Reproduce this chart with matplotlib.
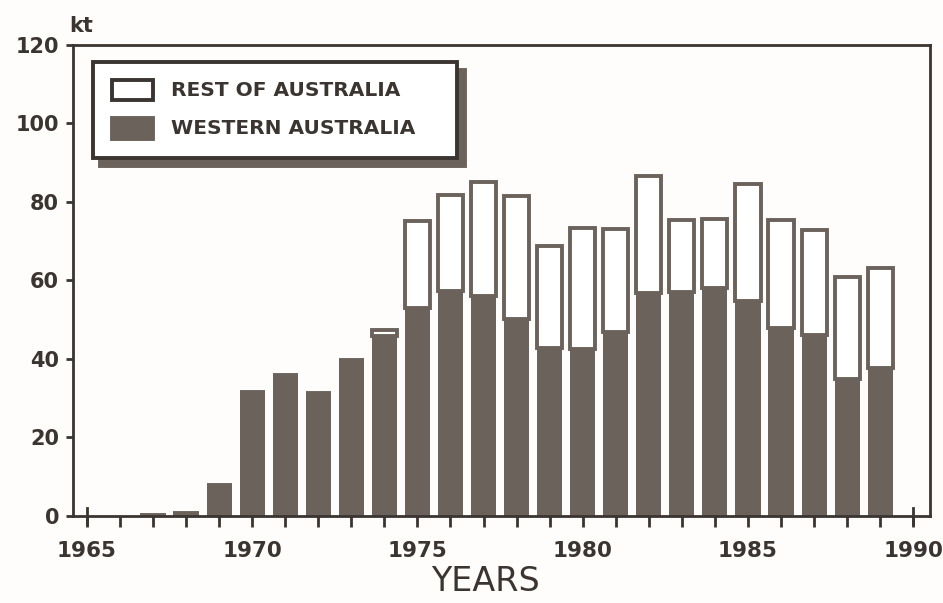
import matplotlib.pyplot as plt
from matplotlib.patches import Rectangle

# production in kt, by year
years = [1967, 1968, 1969, 1970, 1971, 1972, 1973, 1974, 1975, 1976, 1977, 1978,
         1979, 1980, 1981, 1982, 1983, 1984, 1985, 1986, 1987, 1988, 1989]
western = [0.3, 0.8, 8, 31.5, 36, 31.3, 39.7, 45.8, 52.9, 57.3, 56.1, 50.1,
           42.9, 42.5, 46.8, 56.7, 57.1, 58.0, 54.8, 48.0, 46.2, 34.9, 37.7]
totals = [0.3, 0.8, 8, 31.5, 36, 31.3, 39.7, 47.3, 75.1, 81.8, 85.2, 81.4,
          68.8, 73.4, 73.1, 86.5, 75.5, 75.7, 84.5, 75.4, 72.9, 60.8, 63.3]
rest = [t - w for t, w in zip(totals, western)]

yticks = [0, 20, 40, 60, 80, 100, 120]
xlabels = [1965, 1970, 1975, 1980, 1985, 1990]

dark = "#6b625c"
ink = "#3b3531"
paper = "#fefdfb"

plt.rcParams['font.family'] = ['DejaVu Sans']

fig = plt.figure(figsize=(9.43, 6.03), dpi=100, facecolor=paper)
ax = fig.add_axes([0.0774, 0.1443, 0.9086, 0.7811], facecolor=paper)

ax.bar(years, western, width=0.76, color=dark, edgecolor=dark, lw=0)
ax.bar(years, rest, width=0.76, bottom=western, facecolor="white",
       edgecolor=dark, lw=2.8)

ax.set_xlim(1964.58, 1990.5)
ax.set_ylim(0, 120)

for s in ax.spines.values():
    s.set_color(ink)
    s.set_linewidth(2)

ax.set_yticks(yticks)
ax.set_yticklabels([str(v) for v in yticks], fontsize=15, fontweight='bold',
                   color=ink)
ax.set_xticks(range(1965, 1991))
ax.set_xticklabels([str(y) if y in xlabels else "" for y in range(1965, 1991)],
                   fontsize=15.5, fontweight='bold', color=ink)
ax.tick_params(axis='both', colors=ink, width=2, length=5, pad=5)
ax.tick_params(axis='x', length=8, pad=10)

# end years get a tick crossing the axis
for yr in (1965, 1990):
    ax.plot([yr, yr], [-2, 2], color=ink, lw=2, clip_on=False)

ax.text(-0.004, 1.02, "kt", transform=ax.transAxes, fontsize=15,
        fontweight='bold', color=ink, ha='left', va='bottom')
ax.text(0.481, -0.14, "YEARS", transform=ax.transAxes, fontsize=24,
        color=ink, ha='center', va='center')

# legend box with a solid drop shadow
box = dict(fill=True, lw=2.8, transform=ax.transAxes, clip_on=False)
ax.add_patch(Rectangle((0.032, 0.743), 0.425, 0.204, fc=dark, ec=dark,
                       zorder=4, **box))
ax.add_patch(Rectangle((0.023, 0.760), 0.425, 0.204, fc="white", ec=ink,
                       zorder=5, **box))
ax.add_patch(Rectangle((0.045, 0.884), 0.048, 0.042, fc="white", ec=ink,
                       zorder=6, **box))
ax.add_patch(Rectangle((0.045, 0.800), 0.048, 0.045, fc=dark, ec=dark,
                       zorder=6, **box))
ax.text(0.114, 0.904, "REST OF AUSTRALIA", transform=ax.transAxes,
        fontsize=14.5, fontweight='bold', color=ink, va='center', zorder=7)
ax.text(0.114, 0.823, "WESTERN AUSTRALIA", transform=ax.transAxes,
        fontsize=14.5, fontweight='bold', color=ink, va='center', zorder=7)

fig.savefig("out.png", dpi=100, facecolor=paper)
